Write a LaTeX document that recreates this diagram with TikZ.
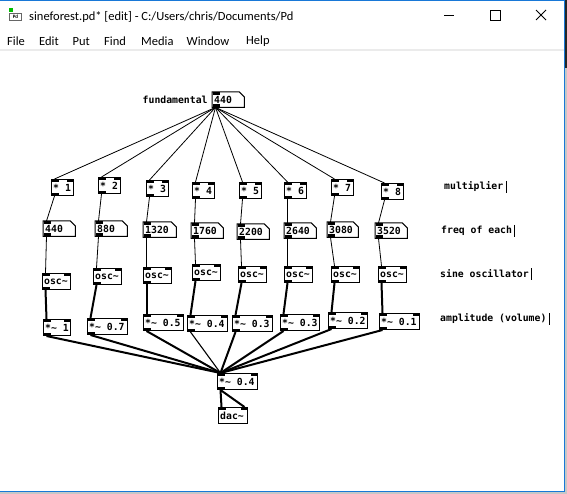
\documentclass[tikz,border=0pt]{standalone}
\usepackage{fontspec}
\newfontfamily\pdfont{DejaVu Sans Mono}
\newfontfamily\uifont{Carlito}
\definecolor{winblue}{RGB}{24,120,215}
\tikzset{
  pdbox/.style={draw=black, line width=1pt, inner sep=0pt, anchor=north west, minimum height=16pt},
  pdnum/.style={inner sep=0pt, anchor=north west, minimum height=15pt},
  pdtext/.style={font=\pdfont\bfseries\fontsize{9.8}{11}\selectfont, inner sep=0pt, anchor=west, text=black},
  ctl/.style={line width=0.8pt},
  sig/.style={line width=2pt},
  sigthin/.style={line width=1.1pt},
  uitext/.style={font=\uifont\fontsize{12.5}{14}\selectfont, inner sep=0pt, anchor=west},
  iolet/.style={fill=black},
  cursorbar/.style={line width=0.8pt},
}
% name, x, y, width, text, inlets, outlets
\newcommand\pdobj[7]{%
  \node[pdbox, minimum width=#4] (#1) at (#2,#3) {};
  \node[pdtext] (#1t) at ([xshift=2pt]#1.west) {#5};
  \fill[iolet] ([xshift=0.5pt,yshift=-0.5pt]#1.north west) rectangle ++(7,2.5);
  \ifnum#6>1 \fill[iolet] ([xshift=-7.5pt,yshift=-0.5pt]#1.north east) rectangle ++(7,2.5);\fi
  \ifnum#7>0 \fill[iolet] ([xshift=0.5pt,yshift=0.5pt]#1.south west) rectangle ++(7,-2.5);\fi
}
% name, x, y, width, text
\newcommand\pdnumbox[5]{%
  \node[pdnum, minimum width=#4] (#1) at (#2,#3) {};
  \draw[line width=1pt] (#1.north west) -- ([xshift=-5pt]#1.north east) -- ([yshift=-5pt]#1.north east) -- (#1.south east) -- (#1.south west) -- cycle;
  \node[pdtext] (#1t) at ([xshift=2pt]#1.west) {#5};
  \fill[iolet] ([xshift=0.5pt,yshift=-0.5pt]#1.north west) rectangle ++(7,2.5);
  \fill[iolet] ([xshift=0.5pt,yshift=0.5pt]#1.south west) rectangle ++(7,-2.5);
}
\newcommand\pdconn[3]{\draw[#1] ([xshift=3.5pt]#2.south west) -- ([xshift=3.5pt]#3.north west);}
\newcommand\pdcomment[4]{%
  \node[pdtext] (#1) at (#2,#3) {#4};
  \draw[cursorbar] ([xshift=2.5pt]#1.east) ++(0,-6) -- ++(0,12);
}
\begin{document}
\begin{tikzpicture}[x=1pt,y=-1pt]
\useasboundingbox (0,0) rectangle (567,494);
\fill[white] (0,0) rectangle (567,494);
% window frame
\fill[black!8] (0,49) rectangle (564,51.5);
\fill[black!85] (565,0) rectangle (567,68);
\fill[black!22] (565,68) rectangle (567,494);
\fill[black!22] (0,492.2) rectangle (567,494);
\draw[winblue, line width=1.5pt] (0,0.75) -- (564.5,0.75) -- (564.5,491.5) -- (0,491.5);
% title bar
\fill[green!75!black] (9,8) rectangle (13,12);
\draw[black!60, line width=0.6pt, fill=white] (9.5,13.5) rectangle (21.5,20.5);
\node[font=\uifont\bfseries\fontsize{5}{5}\selectfont, inner sep=0pt] (iconpd) at (15.5,17.2) {Pd};
\node[uitext] (title) at (29,16.5) {sineforest.pd* [edit] - C:/Users/chris/Documents/Pd};
\draw[line width=0.8pt] (444,15.5) -- (454,15.5);
\draw[line width=0.8pt] (490.5,10.5) rectangle (500.5,20.5);
\draw[line width=0.8pt] (536,10) -- (546,20) (546,10) -- (536,20);
% menu
\node[uitext] (mfile) at (7,41.5) {File};
\node[uitext] (medit) at (39,41.5) {Edit};
\node[uitext] (mput) at (72.5,41.5) {Put};
\node[uitext] (mfind) at (104,41.5) {Find};
\node[uitext] (mmedia) at (141,41.5) {Media};
\node[uitext] (mwindow) at (186.5,41.5) {Window};
\node[uitext] (mhelp) at (246,41.5) {Help};
% patch
\node[pdtext] (fundlabel) at (142.5,99.5) {fundamental};
\pdnumbox{fund}{212}{92}{32}{440}
\pdobj{m1}{51}{179}{22}{* 1}{2}{1}
\pdobj{m2}{98}{177}{22}{* 2}{2}{1}
\pdobj{m3}{146}{180}{22}{* 3}{2}{1}
\pdobj{m4}{192}{182}{22}{* 4}{2}{1}
\pdobj{m5}{239}{182}{22}{* 5}{2}{1}
\pdobj{m6}{284}{182}{22}{* 6}{2}{1}
\pdobj{m7}{331}{179}{22}{* 7}{2}{1}
\pdobj{m8}{381}{183}{22}{* 8}{2}{1}
\pdnumbox{n1}{43}{221}{32}{440}
\pdnumbox{n2}{95}{221}{32}{880}
\pdnumbox{n3}{143}{222}{33}{1320}
\pdnumbox{n4}{191}{223}{32}{1760}
\pdnumbox{n5}{237}{224}{32}{2200}
\pdnumbox{n6}{284}{223}{32}{2640}
\pdnumbox{n7}{327}{222}{31}{3080}
\pdnumbox{n8}{375}{223}{32}{3520}
\pdobj{o1}{42}{273}{28}{osc\char`~}{2}{1}
\pdobj{o2}{93}{268}{28}{osc\char`~}{2}{1}
\pdobj{o3}{143}{267}{28}{osc\char`~}{2}{1}
\pdobj{o4}{192}{264}{28}{osc\char`~}{2}{1}
\pdobj{o5}{238}{266}{28}{osc\char`~}{2}{1}
\pdobj{o6}{284}{266}{28}{osc\char`~}{2}{1}
\pdobj{o7}{331}{266}{28}{osc\char`~}{2}{1}
\pdobj{o8}{378}{266}{28}{osc\char`~}{2}{1}
\pdobj{a1}{43}{319}{27}{*\char`~\ 1}{2}{1}
\pdobj{a2}{87}{318}{40}{*\char`~\ 0.7}{2}{1}
\pdobj{a3}{143}{314}{40}{*\char`~\ 0.5}{2}{1}
\pdobj{a4}{187}{315}{40}{*\char`~\ 0.4}{2}{1}
\pdobj{a5}{232}{315}{40}{*\char`~\ 0.3}{2}{1}
\pdobj{a6}{280}{314}{39}{*\char`~\ 0.3}{2}{1}
\pdobj{a7}{328}{312}{39}{*\char`~\ 0.2}{2}{1}
\pdobj{a8}{379}{313}{40}{*\char`~\ 0.1}{2}{1}
\pdobj{fin}{217}{373}{40}{*\char`~\ 0.4}{2}{1}
\pdobj{dac}{218}{407}{29}{dac\char`~}{2}{0}
% comments
\pdcomment{cmult}{444}{187}{multiplier}
\pdcomment{cfreq}{441}{231}{freq of each}
\pdcomment{csine}{440}{274}{sine oscillator}
\pdcomment{camp}{440}{319}{amplitude (volume)}
% connections
\foreach \i in {1,...,8} {
  \pdconn{ctl}{fund}{m\i}
  \pdconn{ctl}{m\i}{n\i}
  \pdconn{ctl}{n\i}{o\i}
  \pdconn{sig}{o\i}{a\i}
}
\foreach \i in {1,2,3,5,6,7,8} {
  \pdconn{sig}{a\i}{fin}
}
\pdconn{sigthin}{a4}{fin}
\pdconn{sig}{fin}{dac}
\draw[sig] ([xshift=3.5pt]fin.south west) -- ([xshift=-3.5pt]dac.north east);
\end{tikzpicture}
\end{document}
